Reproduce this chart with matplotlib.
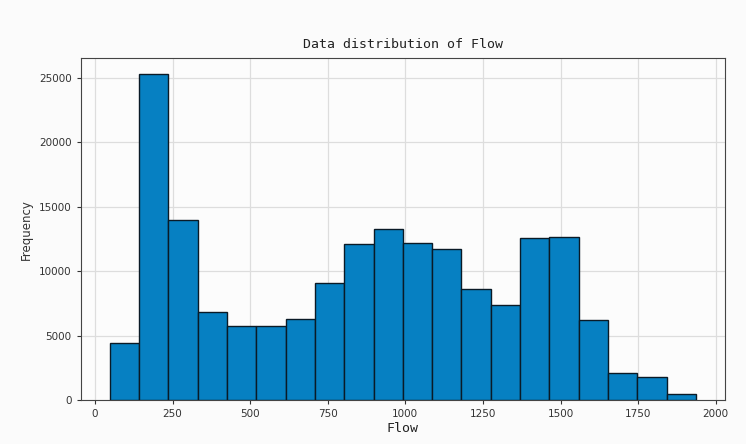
import matplotlib
matplotlib.use("Agg")
import matplotlib.pyplot as plt
import numpy as np

# Histogram bin edges (Flow) and counts per bin
bin_start = 48
bin_end = 1936
n_bins = 20
counts = [4450, 25250, 14000, 6800, 5780, 5770, 6270, 9100, 12100, 13280,
          12180, 11720, 8600, 7370, 12530, 12650, 6200, 2080, 1760, 450]
xticks = [0, 250, 500, 750, 1000, 1250, 1500, 1750, 2000]
yticks = [0, 5000, 10000, 15000, 20000, 25000]

edges = np.linspace(bin_start, bin_end, n_bins + 1)
centers = (edges[:-1] + edges[1:]) / 2

fig = plt.figure(figsize=(7.46, 4.44), dpi=100)
fig.patch.set_facecolor("#fbfbfb")
ax = fig.add_axes([0.108, 0.099, 0.864, 0.770])
ax.set_facecolor("#fcfcfc")
ax.hist(centers, bins=edges, weights=counts, color="#0680c2",
        edgecolor="#0a1a26", linewidth=1.0, zorder=3)
ax.grid(True, color="#dddddd", linewidth=0.9, zorder=0)
ax.set_xticks(xticks)
ax.set_yticks(yticks)
ax.tick_params(labelsize=7.5, colors="#333333", length=3)
for s in ax.spines.values():
    s.set_color("#444444")
ax.set_title("Data distribution of Flow", family="DejaVu Sans Mono",
             fontsize=9.5, color="#222222", pad=7)
ax.set_xlabel("Flow", family="DejaVu Sans Mono", fontsize=9.5, color="#222222", labelpad=2)
ax.set_ylabel("Frequency", fontsize=8.5, color="#333333")
fig.savefig("out.png", dpi=100, facecolor=fig.get_facecolor())
